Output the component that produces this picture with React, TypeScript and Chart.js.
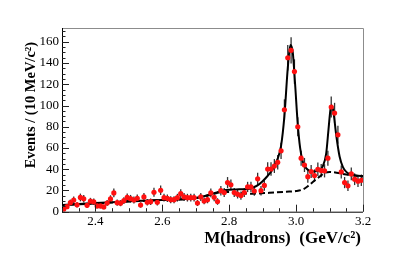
import { useEffect, useRef } from "react";
import { Chart, registerables } from "chart.js";

Chart.register(...registerables);

// Bin centres (GeV/c^2), 10 MeV bins
const massBins = [
  2.305, 2.315, 2.325, 2.335, 2.345, 2.355, 2.365, 2.375, 2.385, 2.395,
  2.405, 2.415, 2.425, 2.435, 2.445, 2.455, 2.465, 2.475, 2.485, 2.495,
  2.505, 2.515, 2.525, 2.535, 2.545, 2.555, 2.565, 2.575, 2.585, 2.595,
  2.605, 2.615, 2.625, 2.635, 2.645, 2.655, 2.665, 2.675, 2.685, 2.695,
  2.705, 2.715, 2.725, 2.735, 2.745, 2.755, 2.765, 2.775, 2.785, 2.795,
  2.805, 2.815, 2.825, 2.835, 2.845, 2.855, 2.865, 2.875, 2.885, 2.895,
  2.905, 2.915, 2.925, 2.935, 2.945, 2.955, 2.965, 2.975, 2.985, 2.995,
  3.005, 3.015, 3.025, 3.035, 3.045, 3.055, 3.065, 3.075, 3.085, 3.095,
  3.105, 3.115, 3.125, 3.135, 3.145, 3.155, 3.165, 3.175, 3.185, 3.195,
];

// Events per bin
const events = [
  2.3, 4.7, 8.5, 11, 6.5, 13.4, 12.2, 6, 9.9, 9.3,
  5.4, 5.4, 4.5, 8.2, 12, 17.7, 8.5, 8, 10.4, 13.4,
  12.3, 11, 12.6, 6.3, 13.9, 8.9, 9.4, 18.3, 8.9, 20.2,
  13.2, 12.6, 11.3, 11.3, 13.2, 17, 13.9, 13.2, 13.2, 13.2,
  8.2, 13.9, 10.1, 11.3, 17.7, 13.6, 9.6, 19.8, 18, 27.4,
  25.4, 18, 16.5, 15.2, 18, 23.3, 23.3, 19.5, 31, 19.8,
  24.7, 40.2, 40.2, 43, 46.5, 57.3, 96, 145, 152, 132,
  80, 50.4, 44, 33, 37.8, 34, 40, 38.7, 38.5, 50.4,
  98.6, 92.9, 72.4, 37.5, 27.4, 24.4, 35.6, 30.6, 28.7, 29.6,
];

// Total fit curve
const fitMass = [
  2.3, 2.35, 2.4, 2.45, 2.5, 2.55, 2.6, 2.65, 2.7, 2.73,
  2.76, 2.79, 2.82, 2.85, 2.87, 2.89, 2.91, 2.93, 2.945, 2.955,
  2.965, 2.975, 2.983, 2.99, 2.997, 3.005, 3.012, 3.02, 3.03, 3.04,
  3.055, 3.07, 3.08, 3.09, 3.097, 3.103, 3.107, 3.112, 3.12, 3.13,
  3.14, 3.15, 3.165, 3.18, 3.2,
];
const fitValues = [
  6.3, 7.2, 8.1, 9.0, 9.8, 10.4, 11.0, 11.6, 13.0, 15.0,
  18.0, 20.5, 21.0, 21.2, 22.5, 26, 32, 40, 50, 62,
  90, 135, 157, 150, 120, 82, 60, 47, 41, 38.5,
  37.8, 39.5, 43, 55, 78, 97, 100, 93, 72, 52,
  42, 37.5, 35, 34, 33.5,
];

// Background curve
const bkgMass = [
  2.3, 2.4, 2.5, 2.6, 2.7, 2.74, 2.78, 2.8, 2.83, 2.87,
  2.92, 2.97, 3.0, 3.02, 3.035, 3.05, 3.07, 3.085, 3.1, 3.15, 3.2,
];
const bkgValues = [
  6.0, 7.8, 9.5, 11.0, 12.8, 15.5, 18.5, 18.6, 17.5, 17.0,
  17.8, 18.8, 19.5, 21, 24, 28, 33, 36.5, 37.5, 35, 33,
];

const xTickValues = [2.4, 2.6, 2.8, 3.0, 3.2];
const yTickValues = [0, 20, 40, 60, 80, 100, 120, 140, 160];

const X_MIN = 2.3;
const X_MAX = 3.2;
const Y_MIN = 0;
const Y_MAX = 173;

const xTitle = "M(hadrons)  (GeV/c\u00B2)";
const yTitle = "Events / (10 MeV/c\u00B2)";

const serif = "'Liberation Serif', 'Times New Roman', serif";

const rootStyle = {
  id: "rootStyle",
  beforeDatasetsDraw(chart: any) {
    const { ctx, scales } = chart;
    const x = scales.x;
    const y = scales.y;
    ctx.save();
    ctx.strokeStyle = "#333";
    ctx.lineWidth = 1.3;
    massBins.forEach((m, i) => {
      const v = events[i];
      const e = Math.sqrt(v);
      const px = x.getPixelForValue(m);
      ctx.beginPath();
      ctx.moveTo(px, y.getPixelForValue(Math.max(v - e, 0)));
      ctx.lineTo(px, y.getPixelForValue(v + e));
      ctx.stroke();
    });
    ctx.restore();
  },
  afterDraw(chart: any) {
    const { ctx, chartArea, scales } = chart;
    const x = scales.x;
    const y = scales.y;
    const { left, right, top, bottom } = chartArea;
    ctx.save();
    // frame: top and right in grey
    ctx.strokeStyle = "#8c8c8c";
    ctx.lineWidth = 1;
    ctx.beginPath();
    ctx.moveTo(left, top + 0.5);
    ctx.lineTo(right + 0.5, top + 0.5);
    ctx.lineTo(right + 0.5, bottom);
    ctx.stroke();
    // axes in black
    ctx.strokeStyle = "#000";
    ctx.beginPath();
    ctx.moveTo(left + 0.5, top);
    ctx.lineTo(left + 0.5, bottom + 0.5);
    ctx.lineTo(right, bottom + 0.5);
    ctx.stroke();
    // y ticks (inside)
    ctx.strokeStyle = "#222";
    ctx.beginPath();
    for (let v = 0; v <= Y_MAX; v += 5) {
      const py = Math.round(y.getPixelForValue(v)) + 0.5;
      const len = v % 20 === 0 ? 7 : 3.5;
      ctx.moveTo(left, py);
      ctx.lineTo(left + len, py);
    }
    // x ticks (inside)
    for (let k = 0; k <= 18; k++) {
      const v = X_MIN + k * 0.05;
      const px = Math.round(x.getPixelForValue(v)) + 0.5;
      const major = k % 4 === 2;
      const len = major ? 7 : 3.5;
      ctx.moveTo(px, bottom);
      ctx.lineTo(px, bottom - len);
    }
    ctx.stroke();
    // axis titles
    ctx.fillStyle = "#000";
    ctx.font = `bold 17px ${serif}`;
    ctx.textAlign = "right";
    ctx.textBaseline = "middle";
    ctx.fillText(xTitle, 361, 239);
    ctx.save();
    ctx.translate(31.5, 42);
    ctx.rotate(-Math.PI / 2);
    ctx.font = `bold 14.5px ${serif}`;
    ctx.textAlign = "right";
    ctx.textBaseline = "middle";
    ctx.fillText(yTitle, 0, 0);
    ctx.restore();
    ctx.restore();
  },
};

export default function App() {
  const canvasRef = useRef<HTMLCanvasElement | null>(null);

  useEffect(() => {
    const canvas = canvasRef.current;
    if (!canvas) return;
    const chart = new Chart(canvas, {
      type: "scatter",
      data: {
        datasets: [
          {
            label: "data",
            data: massBins.map((m, i) => ({ x: m, y: events[i] })),
            backgroundColor: "#ff1010",
            borderWidth: 0,
            pointRadius: 2.6,
            showLine: false,
            order: 0,
          },
          {
            label: "fit",
            type: "line",
            data: fitMass.map((m, i) => ({ x: m, y: fitValues[i] })),
            borderColor: "#000",
            borderWidth: 2,
            pointRadius: 0,
            cubicInterpolationMode: "monotone",
            fill: false,
            order: 1,
          } as any,
          {
            label: "background",
            type: "line",
            data: bkgMass.map((m, i) => ({ x: m, y: bkgValues[i] })),
            borderColor: "#000",
            borderWidth: 2,
            borderDash: [6, 3],
            pointRadius: 0,
            cubicInterpolationMode: "monotone",
            fill: false,
            order: 2,
          } as any,
        ],
      },
      options: {
        responsive: false,
        animation: false,
        devicePixelRatio: 1,
        layout: { padding: { left: 0, right: 36, top: 28, bottom: 0 } },
        plugins: {
          legend: { display: false },
          tooltip: { enabled: false },
        },
        scales: {
          x: {
            type: "linear",
            min: X_MIN,
            max: X_MAX,
            grid: { display: false, drawTicks: false },
            border: { display: false },
            afterBuildTicks: (scale: any) => {
              scale.ticks = xTickValues.map((v) => ({ value: v }));
            },
            afterFit: (scale: any) => {
              scale.height = 58.3;
            },
            ticks: {
              color: "#000",
              padding: 2,
              font: { family: serif, size: 13 },
              callback: (v: any) => Number(v).toFixed(1),
            },
          },
          y: {
            type: "linear",
            min: Y_MIN,
            max: Y_MAX,
            grid: { display: false, drawTicks: false },
            border: { display: false },
            afterBuildTicks: (scale: any) => {
              scale.ticks = yTickValues.map((v) => ({ value: v }));
            },
            afterFit: (scale: any) => {
              scale.width = 62;
            },
            ticks: {
              color: "#000",
              padding: 3,
              font: { family: serif, size: 13 },
              callback: (v: any) => String(v),
            },
          },
        },
      },
      plugins: [rootStyle],
    });
    return () => chart.destroy();
  }, []);

  return (
    <div style={{ position: "fixed", left: 0, top: 0, width: 399, height: 270, background: "#fff" }}>
      <canvas ref={canvasRef} width={399} height={270} />
    </div>
  );
}
